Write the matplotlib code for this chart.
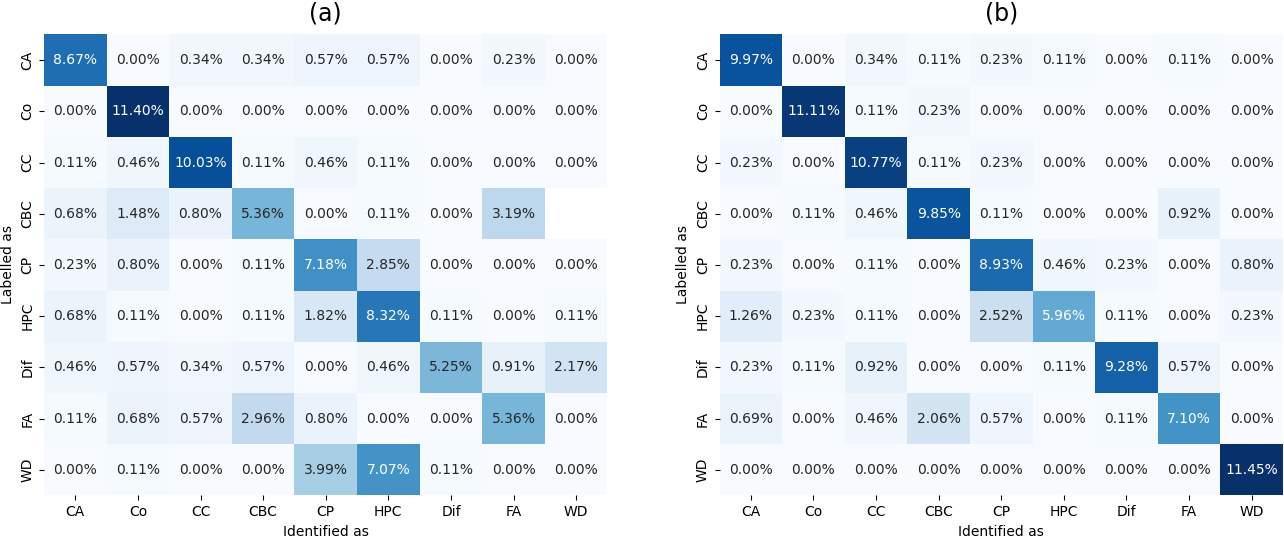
import numpy as np
import matplotlib
matplotlib.use("Agg")
import matplotlib.pyplot as plt
import seaborn as sns

classes = ["CA", "Co", "CC", "CBC", "CP", "HPC", "Dif", "FA", "WD"]

# confusion matrix (a), percentages; one cell is blank in the original
conf_a = np.array([
    [8.67, 0.00, 0.34, 0.34, 0.57, 0.57, 0.00, 0.23, 0.00],
    [0.00, 11.40, 0.00, 0.00, 0.00, 0.00, 0.00, 0.00, 0.00],
    [0.11, 0.46, 10.03, 0.11, 0.46, 0.11, 0.00, 0.00, 0.00],
    [0.68, 1.48, 0.80, 5.36, 0.00, 0.11, 0.00, 3.19, np.nan],
    [0.23, 0.80, 0.00, 0.11, 7.18, 2.85, 0.00, 0.00, 0.00],
    [0.68, 0.11, 0.00, 0.11, 1.82, 8.32, 0.11, 0.00, 0.11],
    [0.46, 0.57, 0.34, 0.57, 0.00, 0.46, 5.25, 0.91, 2.17],
    [0.11, 0.68, 0.57, 2.96, 0.80, 0.00, 0.00, 5.36, 0.00],
    [0.00, 0.11, 0.00, 0.00, 3.99, 7.07, 0.11, 0.00, 0.00],
])

# confusion matrix (b), percentages
conf_b = np.array([
    [9.97, 0.00, 0.34, 0.11, 0.23, 0.11, 0.00, 0.11, 0.00],
    [0.00, 11.11, 0.11, 0.23, 0.00, 0.00, 0.00, 0.00, 0.00],
    [0.23, 0.00, 10.77, 0.11, 0.23, 0.00, 0.00, 0.00, 0.00],
    [0.00, 0.11, 0.46, 9.85, 0.11, 0.00, 0.00, 0.92, 0.00],
    [0.23, 0.00, 0.11, 0.00, 8.93, 0.46, 0.23, 0.00, 0.80],
    [1.26, 0.23, 0.11, 0.00, 2.52, 5.96, 0.11, 0.00, 0.23],
    [0.23, 0.11, 0.92, 0.00, 0.00, 0.11, 9.28, 0.57, 0.00],
    [0.69, 0.00, 0.46, 2.06, 0.57, 0.00, 0.11, 7.10, 0.00],
    [0.00, 0.00, 0.00, 0.00, 0.00, 0.00, 0.00, 0.00, 11.45],
])

titles = ["(a)", "(b)"]

fig, axes = plt.subplots(1, 2, figsize=(12.84, 5.37), dpi=100)
fig.subplots_adjust(left=0.0343, right=0.9992, bottom=0.0773, top=0.9358,
                    wspace=0.199)

for ax, mat, title in zip(axes, [conf_a, conf_b], titles):
    labels = np.array([["" if np.isnan(v) else f"{v:.2f}%" for v in row]
                       for row in mat])
    sns.heatmap(mat, ax=ax, cmap="Blues", annot=labels, fmt="", cbar=False,
                xticklabels=classes, yticklabels=classes,
                annot_kws={"fontsize": 10})
    ax.set_title(title, fontsize=17, pad=10)
    ax.set_xlabel("Identified as", fontsize=10)
    ax.set_ylabel("Labelled as", fontsize=10)
    ax.tick_params(axis="both", labelsize=10)
    plt.setp(ax.get_yticklabels(), rotation=90, va="center")

fig.savefig("out.png", dpi=100)
